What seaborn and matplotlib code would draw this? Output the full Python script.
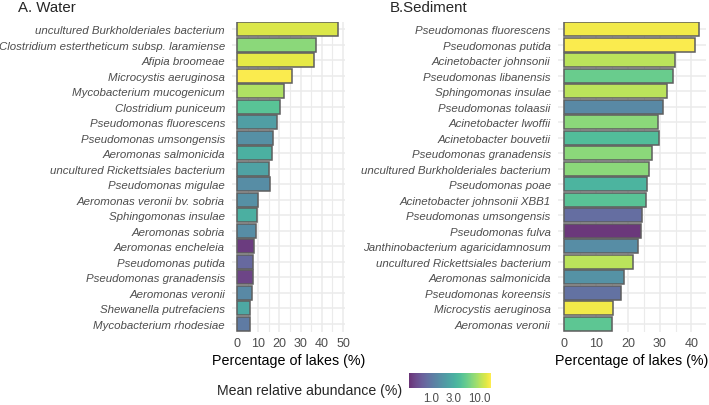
import numpy as np
import pandas as pd
import matplotlib
matplotlib.use("Agg")
import matplotlib.pyplot as plt
import matplotlib.colors as mcolors
import matplotlib.cm as cm
import seaborn as sns

# ---------------- data ----------------
water_species = [
    "uncultured Burkholderiales bacterium",
    "Clostridium estertheticum subsp. laramiense",
    "Afipia broomeae",
    "Microcystis aeruginosa",
    "Mycobacterium mucogenicum",
    "Clostridium puniceum",
    "Pseudomonas fluorescens",
    "Pseudomonas umsongensis",
    "Aeromonas salmonicida",
    "uncultured Rickettsiales bacterium",
    "Pseudomonas migulae",
    "Aeromonas veronii bv. sobria",
    "Sphingomonas insulae",
    "Aeromonas sobria",
    "Aeromonas encheleia",
    "Pseudomonas putida",
    "Pseudomonas granadensis",
    "Aeromonas veronii",
    "Shewanella putrefaciens",
    "Mycobacterium rhodesiae",
]
water_pct = [47.4, 37.0, 36.5, 26.0, 22.0, 20.3, 18.8, 16.9, 16.4, 15.0,
             15.3, 9.9, 9.5, 8.8, 7.9, 7.6, 7.6, 7.1, 6.0, 6.0]
water_abund = [13.5, 7.5, 14.6, 17.0, 9.9, 4.5, 2.1, 1.6, 3.05, 2.3,
               1.5, 1.6, 3.0, 1.5, 0.40, 0.78, 0.45, 1.4, 2.6, 1.06]

sed_species = [
    "Pseudomonas fluorescens",
    "Pseudomonas putida",
    "Acinetobacter johnsonii",
    "Pseudomonas libanensis",
    "Sphingomonas insulae",
    "Pseudomonas tolaasii",
    "Acinetobacter lwoffii",
    "Acinetobacter bouvetii",
    "Pseudomonas granadensis",
    "uncultured Burkholderiales bacterium",
    "Pseudomonas poae",
    "Acinetobacter johnsonii XBB1",
    "Pseudomonas umsongensis",
    "Pseudomonas fulva",
    "Janthinobacterium agaricidamnosum",
    "uncultured Rickettsiales bacterium",
    "Aeromonas salmonicida",
    "Pseudomonas koreensis",
    "Microcystis aeruginosa",
    "Aeromonas veronii",
]
sed_pct = [42.4, 41.1, 34.8, 34.3, 32.4, 31.1, 29.6, 29.7, 27.6, 26.6,
           25.9, 25.6, 24.3, 24.1, 23.3, 21.5, 18.8, 17.7, 15.4, 15.1]
sed_abund = [16.0, 17.0, 10.7, 5.5, 10.7, 1.4, 7.5, 4.0, 7.5, 7.5,
             3.3, 4.5, 0.84, 0.38, 1.5, 10.7, 1.65, 0.91, 16.0, 4.8]

cbar_ticks = [1.0, 3.0, 10.0]
cbar_labels = ["1.0", "3.0", "10.0"]

# ---------------- style ----------------
sns.set_style("white")
plt.rcParams["font.family"] = ["Liberation Sans", "DejaVu Sans"]

W, H = 709, 406
fig = plt.figure(figsize=(W / 100, H / 100), dpi=100)

alpha = 0.8
base = plt.get_cmap("viridis")
cols = base(np.linspace(0, 1, 256))[:, :3]
cols = alpha * cols + (1 - alpha) * 1.0
cmap = mcolors.ListedColormap(cols)
norm = mcolors.LogNorm(vmin=0.355, vmax=17.7)

grid_c = "#ebebeb"
lab_c = "#4d4d4d"

def panel(rect, species, pct, abund, xlim, xticks, title, title_x):
    ax = fig.add_axes(rect)
    df = pd.DataFrame({"species": species, "pct": pct, "abund": abund})
    pal = [cmap(norm(v)) for v in abund]
    sns.barplot(data=df, x="pct", y="species", hue="species", palette=pal,
                legend=False, orient="h", width=0.9, ax=ax,
                edgecolor="#5e5e5e", linewidth=1.1, saturation=1, zorder=3)
    ax.set_xlim(*xlim)
    ax.set_xticks(xticks)
    minor = [x + 5 for x in xticks if x + 5 < xlim[1]]
    ax.set_xticks(minor, minor=True)
    ax.grid(True, which="major", axis="both", color=grid_c, lw=1.1, zorder=0)
    ax.grid(True, which="minor", axis="x", color=grid_c, lw=0.8, zorder=0)
    ax.set_axisbelow(True)
    for s in ax.spines.values():
        s.set_visible(False)
    ax.tick_params(axis="both", which="both", length=0)
    ax.tick_params(axis="y", pad=5, labelsize=8.25, labelcolor=lab_c)
    ax.tick_params(axis="x", pad=4, labelsize=9, labelcolor=lab_c)
    for t in ax.get_yticklabels():
        t.set_fontstyle("italic")
    ax.set_ylabel("")
    ax.set_xlabel("Percentage of lakes (%)", fontsize=10.3, color="black", labelpad=3)
    fig.text(title_x / W, 1 - 8.5 / H, title, fontsize=10.8, ha="left", va="center")
    return ax

y0 = 1 - 332.5 / H
hh = 310 / H
panel([232 / W, y0, 113 / W, hh], water_species, water_pct, water_abund,
      (-2.4, 50.9), [0, 10, 20, 30, 40, 50], "A. Water", 18)
panel([557.6 / W, y0, 148.2 / W, hh], sed_species, sed_pct, sed_abund,
      (-2.1, 44.5), [0, 10, 20, 30, 40], "B.Sediment", 390)

# ---------------- colorbar legend ----------------
cax = fig.add_axes([409 / W, 1 - 389 / H, 82 / W, 14.7 / H])
sm = cm.ScalarMappable(norm=norm, cmap=cmap)
cb = fig.colorbar(sm, cax=cax, orientation="horizontal")
cb.outline.set_visible(False)
cb.set_ticks(cbar_ticks)
cb.set_ticklabels(cbar_labels)
cax.minorticks_off()
cax.tick_params(axis="x", which="both", direction="in", length=3, width=0.8,
                color="white", top=True, bottom=True, labelsize=8.3,
                labelcolor=lab_c, pad=3)
fig.text(402 / W, 1 - 391.5 / H, "Mean relative abundance (%)", fontsize=10.2,
         ha="right", va="center")

fig.savefig("out.png", dpi=100)
